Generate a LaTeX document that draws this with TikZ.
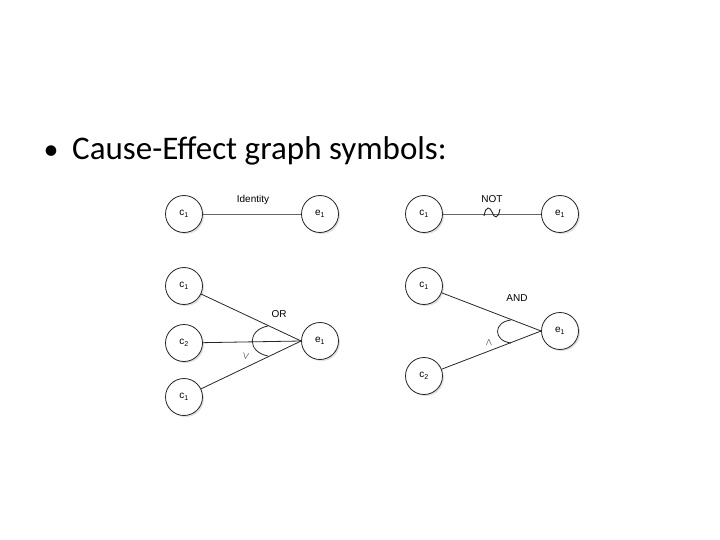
\documentclass[tikz,border=0pt]{standalone}
\usepackage{fontspec}
\usetikzlibrary{shadows}
\setmainfont{Carlito}
\newfontfamily\helv{Liberation Sans}
\begin{document}
\begin{tikzpicture}[x=1pt,y=-1pt,
  st/.style={circle,draw=black!85,line width=0.8pt,minimum size=37pt,inner sep=0pt,font=\helv\fontsize{10}{12}\selectfont,
    fill=white,drop shadow={shadow xshift=1.5pt,shadow yshift=-1.5pt,fill=black!25}},
  ln/.style={draw=black!60,line width=0.8pt},
  ld/.style={draw=black!85,line width=0.8pt},
  lb/.style={font=\helv\fontsize{10}{12}\selectfont,inner sep=0pt}]
\useasboundingbox (0,0) rectangle (720,540);
% title
\node[anchor=base,inner sep=0pt,font=\fontsize{30}{36}\selectfont] (bul) at (51,160) {\textbullet};
\node[anchor=base west,inner sep=0pt,font=\fontsize{33}{40}\selectfont] (title) at (72,160) {Cause-Effect graph symbols:};
% Identity
\node[st] (ic) at (184,214) {c\textsubscript{1}};
\node[st] (ie) at (320,214) {e\textsubscript{1}};
\draw[ln] (ic) -- (ie);
\node[lb] (il) at (253,200) {Identity};
% NOT
\node[st] (nc) at (424,214) {c\textsubscript{1}};
\node[st] (ne) at (560,214) {e\textsubscript{1}};
\draw[ln] (nc) -- (ne);
\node[lb] (nl) at (492,199) {NOT};
\draw[black!85,line width=0.9pt] (484,216) .. controls (486,205) and (490,207) .. (492,212) .. controls (494,218) and (498,220) .. (500,209);
% OR
\node[st] (o1) at (184,286) {c\textsubscript{1}};
\node[st] (o2) at (184,343) {c\textsubscript{2}};
\node[st] (o3) at (184,397) {c\textsubscript{1}};
\node[st] (oe) at (320,341) {e\textsubscript{1}};
\coordinate (om) at (oe.west);
\draw[ld] (o1) -- (om);
\draw[ld] (o2) -- (om);
\draw[ld] (o3) -- (om);
\draw[black!85,line width=0.8pt] (268,326) .. controls (247,330) and (247,352) .. (268,356);
\node[lb] (ol) at (279,314) {OR};
\node[lb,rotate=-10] (ov) at (246,356) {$\vee$};
% AND
\node[st] (a1) at (424,286) {c\textsubscript{1}};
\node[st] (a2) at (424,376) {c\textsubscript{2}};
\node[st] (ae) at (560,331) {e\textsubscript{1}};
\coordinate (am) at (ae.west);
\draw[ld] (a1) -- (am);
\draw[ld] (a2) -- (am);
\draw[black!85,line width=0.8pt] (511,320) .. controls (493,322) and (493,341) .. (511,343);
\node[lb] (al) at (517,298) {AND};
\node[lb] (aw) at (489,343) {$\wedge$};
\end{tikzpicture}
\end{document}
